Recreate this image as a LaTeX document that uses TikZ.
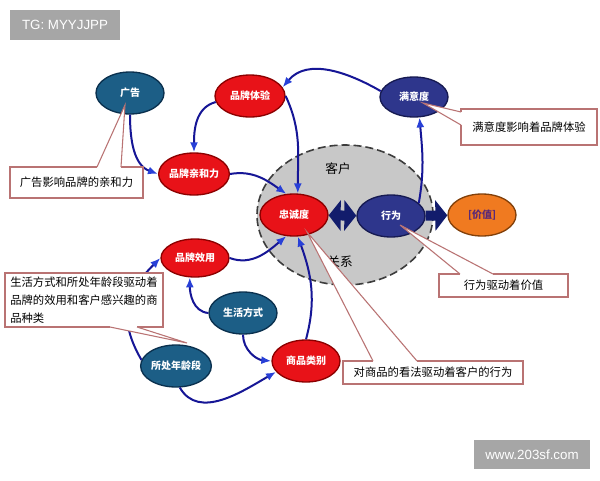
\documentclass[tikz,border=0pt]{standalone}
\usepackage{fontspec}
\setmainfont{Noto Sans CJK SC}
\newfontfamily\wmfont{Liberation Sans}
\usetikzlibrary{arrows.meta,shapes.geometric}
\definecolor{redfill}{RGB}{232,18,24}
\definecolor{redline}{RGB}{140,0,0}
\definecolor{tealfill}{RGB}{28,94,134}
\definecolor{tealline}{RGB}{10,48,78}
\definecolor{navyfill}{RGB}{46,54,140}
\definecolor{navyline}{RGB}{22,26,82}
\definecolor{orangefill}{RGB}{240,122,32}
\definecolor{orangeline}{RGB}{130,64,10}
\definecolor{flowline}{RGB}{22,22,150}
\definecolor{flowtip}{RGB}{40,64,215}
\definecolor{blockblue}{RGB}{18,28,108}
\definecolor{custgray}{RGB}{200,200,200}
\definecolor{custline}{RGB}{60,60,60}
\definecolor{pinkline}{RGB}{185,115,115}
\definecolor{wmgray}{RGB}{166,166,166}
\definecolor{valtext}{RGB}{90,40,120}

\begin{document}
\begin{tikzpicture}[x=0.75pt, y=0.75pt,
	bubble/.style={ellipse, draw, line width=1pt, minimum width=51pt, minimum height=31.5pt, inner sep=0pt, text=white, font=\bfseries\fontsize{7.5}{8}\selectfont},
	redb/.style={bubble, fill=redfill, draw=redline},
	tealb/.style={bubble, fill=tealfill, draw=tealline},
	navyb/.style={bubble, fill=navyfill, draw=navyline},
	flow/.style={-{Latex[length=7.5pt,width=6pt,color=flowtip]}, flowline, line width=1.5pt},
	block/.style={blockblue, line width=7.5pt},
	note/.style={rectangle, draw=pinkline, fill=white, line width=0.8pt, inner sep=2pt, font=\fontsize{8.5}{13.5}\selectfont},
	pointer/.style={draw=pinkline, line width=0.8pt},
	wmbox/.style={fill=wmgray, text=white, inner sep=0pt, font=\wmfont\fontsize{10}{12}\selectfont}]

\fill[white] (0,0) rectangle (600,480);
\useasboundingbox (0,0) rectangle (600,480);

\node[ellipse, fill=custgray, draw=custline, dash pattern=on 6pt off 3pt, line width=1.2pt, minimum width=132pt, minimum height=105pt, inner sep=0pt] (cust) at (345,265) {};
\node[font=\fontsize{9.5}{10}\selectfont] (custtop) at (338,311) {客户};
\node[font=\fontsize{9.5}{10}\selectfont] (custbot) at (340,218) {关系};

\node[tealb] (ad) at (130,387) {广告};
\node[redb, minimum width=52.5pt] (exp) at (250,384) {品牌体验};
\node[redb] (aff) at (194,306) {品牌亲和力};
\node[navyb, minimum height=30pt] (sat) at (414,383) {满意度};
\node[redb] (loy) at (294,265) {忠诚度};
\node[navyb] (beh) at (391,264) {行为};
\node[bubble, fill=orangefill, draw=orangeline, text=valtext] (val) at (482,265) {[价值]};
\node[redb, minimum height=28.5pt] (util) at (195,222) {品牌效用};
\node[tealb] (life) at (243,167) {生活方式};
\node[tealb, minimum width=49.5pt] (age) at (176,114) {所处年龄段};
\node[redb] (cat) at (306,119) {商品类别};

\draw[flow] (ad.south) to[out=-90,in=160] (aff.west);
\draw[flow] (exp.190) to[out=195,in=90] (aff.north);
\draw[flow] (exp.east) to[out=-65,in=90] (loy.80);
\draw[flow] (aff.east) to[out=10,in=145] (loy.110);
\draw[flow] (sat.170) to[out=150,in=50] (exp.15);
\draw[flow] (beh.25) to[out=80,in=-85] (sat.-75);
\draw[flow] (util.east) to[out=-20,in=-140] (loy.-110);
\draw[flow] (cat.north) to[out=75,in=-70] (loy.-80);
\draw[flow] (life.west) to[out=175,in=-90] (util.-105);
\draw[flow] (life.south) to[out=-90,in=175] (cat.west);
\draw[flow] (age.170) to[out=120,in=-135,looseness=1.2] (util.west);
\draw[flow] (age.-80) to[out=-60,in=-150] (cat.200);

\draw[block, {Triangle[length=9pt,width=22.5pt]}-{Triangle[length=9pt,width=22.5pt]}] (loy) -- (beh);
\draw[block, -{Triangle[length=9pt,width=22.5pt]}] (beh) -- (val);

\node[note, minimum width=99.75pt, minimum height=23.25pt] (cA) at (76.5,297.5) {广告影响品牌的亲和力};
\coordinate (cAtip) at (125,375);
\coordinate (cAl) at (97,313);
\coordinate (cAr) at (121,313);
\fill[white] (cAl) -- (cAtip) -- (cAr) -- cycle;
\draw[white, line width=1.2pt] (cAl) -- (cAr);
\draw[pointer] (cAl) -- (cAtip) -- (cAr);

\node[note, minimum width=102pt, minimum height=27pt] (cS) at (529,353) {满意度影响着品牌体验};
\coordinate (cStip) at (423,377);
\coordinate (cSl) at (461,368);
\coordinate (cSr) at (461,355);
\fill[white] (cSl) -- (cStip) -- (cSr) -- cycle;
\draw[white, line width=1.2pt] (cSl) -- (cSr);
\draw[pointer] (cSl) -- (cStip) -- (cSr);

\node[note, minimum width=96.75pt, minimum height=17.25pt] (cB) at (503.5,194.5) {行为驱动着价值};
\coordinate (cBtip) at (400,255);
\coordinate (cBl) at (460,206);
\coordinate (cBr) at (493,206);
\fill[white] (cBl) -- (cBtip) -- (cBr) -- cycle;
\draw[white, line width=1.2pt] (cBl) -- (cBr);
\draw[pointer] (cBl) -- (cBtip) -- (cBr);

\node[note, minimum width=135pt, minimum height=17.25pt] (cC) at (433,107.5) {对商品的看法驱动着客户的行为};
\coordinate (cCtip) at (307,248);
\coordinate (cCl) at (373,119);
\coordinate (cCr) at (417,119);
\fill[white] (cCl) -- (cCtip) -- (cCr) -- cycle;
\draw[white, line width=1.2pt] (cCl) -- (cCr);
\draw[pointer] (cCl) -- (cCtip) -- (cCr);

\node[note, align=left, minimum width=118.5pt, minimum height=40.5pt] (cL) at (84,180) {生活方式和所处年龄段驱动着\\品牌的效用和客户感兴趣的商\\品种类};
\coordinate (cLtip) at (187,137);
\coordinate (cLl) at (110,153);
\coordinate (cLr) at (137,153);
\fill[white] (cLl) -- (cLtip) -- (cLr) -- cycle;
\draw[white, line width=1.2pt] (cLl) -- (cLr);
\draw[pointer] (cLl) -- (cLtip) -- (cLr);

\node[wmbox, minimum width=82.5pt, minimum height=22.5pt] (tg) at (65,455) {TG: MYYJJPP};
\node[wmbox, minimum width=87pt, minimum height=21.75pt] (www) at (532,25.5) {www.203sf.com};

\end{tikzpicture}
\end{document}
